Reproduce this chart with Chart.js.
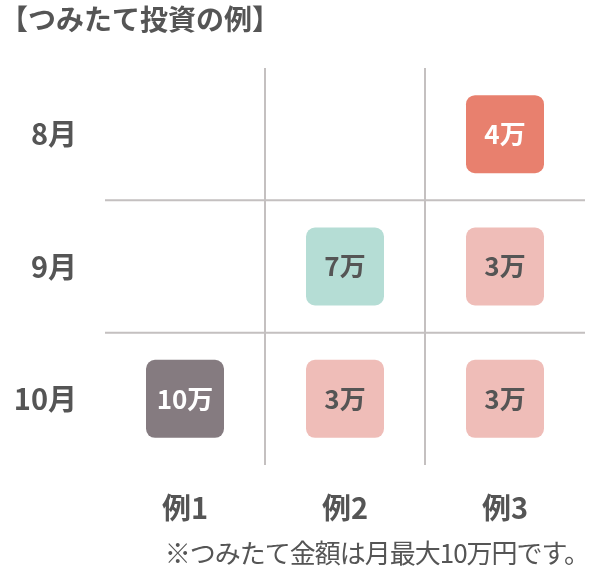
<!DOCTYPE html>
<html><head><meta charset="utf-8">
<script src="https://cdn.jsdelivr.net/npm/chart.js@4"></script>
<style>
body{margin:0;width:595px;height:576px;position:relative;background:#fff;font-family:"Noto Sans CJK JP",sans-serif;color:#555}
#title{position:absolute;left:0px;top:2px;font-size:28px;font-weight:bold;line-height:1.2}
#note{position:absolute;right:6px;top:536px;font-size:26px;line-height:1.2;letter-spacing:-1px}
canvas{position:absolute;left:0;top:0}
</style></head><body>
<canvas id="c" width="595" height="576"></canvas>
<div id="title">【つみたて投資の例】</div>
<div id="note">※つみたて金額は月最大10万円です。</div>
<script>
const months = ['8月', '9月', '10月'];
const examples = ['例1', '例2', '例3'];
// amounts[example][month], null = none
const amounts = [
  [null, null, 10],
  [null, 7, 3],
  [4, 3, 3]
];
const boxColor = v => v === 4 ? '#E8806E' : v === 3 ? '#EFBDB8' : v === 7 ? '#B5DDD5' : '#857B80';
const textColor = v => (v === 4 || v === 10) ? '#fff' : '#555';

const points = [];
examples.forEach((ex, i) => months.forEach((m, j) => {
  if (amounts[i][j] != null) points.push({x: ex, y: m, v: amounts[i][j]});
}));

const innerGrid = {
  id: 'innerGrid',
  beforeDatasetsDraw(chart) {
    const ctx = chart.ctx, a = chart.chartArea;
    const xs = chart.scales.x, ys = chart.scales.y;
    ctx.save();
    ctx.strokeStyle = '#c4c0c0';
    ctx.lineWidth = 2;
    ctx.beginPath();
    for (let i = 1; i < examples.length; i++) {
      const x = (xs.getPixelForValue(i - 1) + xs.getPixelForValue(i)) / 2;
      ctx.moveTo(x, a.top); ctx.lineTo(x, a.bottom);
    }
    for (let j = 1; j < months.length; j++) {
      const y = (ys.getPixelForValue(j - 1) + ys.getPixelForValue(j)) / 2;
      ctx.moveTo(a.left, y); ctx.lineTo(a.right, y);
    }
    ctx.stroke();
    ctx.restore();
  }
};

const boxes = {
  id: 'boxes',
  afterDatasetsDraw(chart) {
    const ctx = chart.ctx;
    chart.getDatasetMeta(0).data.forEach((el, k) => {
      const v = points[k].v, s = 78;
      ctx.save();
      ctx.fillStyle = boxColor(v);
      ctx.beginPath();
      ctx.roundRect(el.x - s / 2, el.y - s / 2, s, s, 9);
      ctx.fill();
      ctx.fillStyle = textColor(v);
      ctx.textAlign = 'center';
      ctx.textBaseline = 'middle';
      ctx.font = 'bold 26px "Noto Sans CJK JP"';
      ctx.fillText(v + '万', el.x, el.y);
      ctx.restore();
    });
  }
};

const tickFont = {size: 29, weight: 'bold', family: '"Noto Sans CJK JP"'};

new Chart(document.getElementById('c'), {
  type: 'scatter',
  data: {datasets: [{data: points, pointRadius: 0}]},
  options: {
    responsive: false,
    animation: false,
    layout: {padding: {top: 68, right: 10, left: 0, bottom: 0}},
    plugins: {legend: {display: false}, tooltip: {enabled: false}},
    scales: {
      x: {
        type: 'category', labels: examples, offset: true,
        grid: {display: false},
        border: {display: false},
        ticks: {color: '#555', padding: 18, font: tickFont},
        afterFit: s => { s.height = 111; }
      },
      y: {
        type: 'category', labels: months, offset: true,
        grid: {display: false},
        border: {display: false},
        ticks: {color: '#555', padding: 20, font: tickFont},
        afterFit: s => { s.width = 105; }
      }
    }
  },
  plugins: [innerGrid, boxes]
});
</script>
</body></html>
